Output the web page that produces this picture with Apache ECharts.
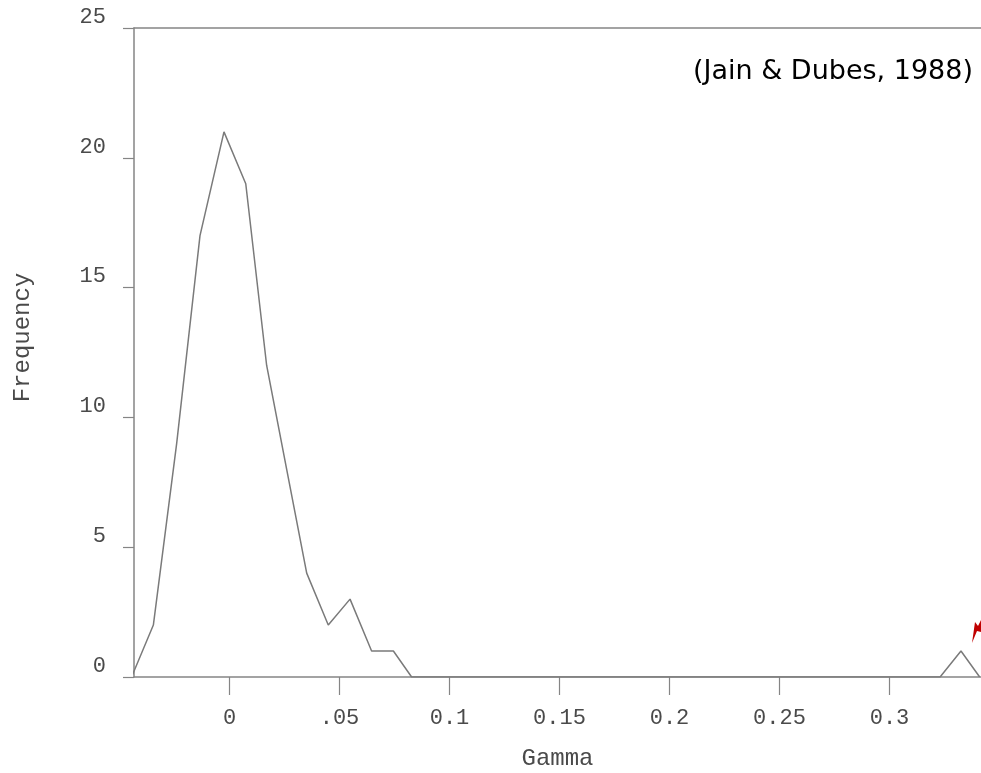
<!DOCTYPE html>
<html lang="en">
  <head>
    <meta charset="utf-8">
    <title>Gamma frequency</title>
    <script src="https://cdn.jsdelivr.net/npm/echarts@6.0.0/dist/echarts.min.js"></script>
    <style>
      html, body { margin: 0; padding: 0; background: #fff; }
      #chart { width: 981px; height: 773px; }
    </style>
  </head>
  <body>
    <div id="chart"></div>
    <script>
      // values
      var gamma = [-0.0445, -0.0346, -0.024, -0.0134, -0.0025, 0.0074, 0.0169, 0.026, 0.0351,
                   0.0449, 0.0548, 0.0646, 0.0745, 0.0828, 0.323, 0.3325, 0.341];
      var frequency = [0, 2, 9, 17, 21, 19, 12, 8, 4, 2, 3, 1, 1, 0, 0, 1, 0];

      var xTickValues = [0, 0.05, 0.1, 0.15, 0.2, 0.25, 0.3];
      var xTickLabels = ['0', '.05', '0.1', '0.15', '0.2', '0.25', '0.3'];
      var yTickLabels = ['0', '5', '10', '15', '20', '25'];

      var points = gamma.map(function (g, i) { return [g, frequency[i]]; });

      var lineGray = '#858585';
      var textGray = '#4a4a4a';
      var mono = 'Liberation Mono';

      var myChart = echarts.init(document.getElementById('chart'));

      myChart.setOption({
        animation: false,
        grid: { left: 134, top: 28, right: 0, bottom: 96, outerBoundsMode: 'none', containLabel: false },
        xAxis: [{
          type: 'value',
          min: -0.0434,
          max: 0.3416,
          name: 'Gamma',
          nameLocation: 'middle',
          nameGap: 70,
          nameTextStyle: { fontFamily: mono, fontSize: 24, color: textGray },
          axisLine: { onZero: false, lineStyle: { color: lineGray, width: 1.5 } },
          axisTick: { customValues: xTickValues, length: 18, lineStyle: { color: lineGray, width: 1.2 } },
          axisLabel: {
            customValues: xTickValues,
            margin: 30,
            fontFamily: mono,
            fontSize: 22,
            color: textGray,
            formatter: function (v) {
              var i = xTickValues.findIndex(function (t) { return Math.abs(t - v) < 1e-9; });
              return i < 0 ? '' : xTickLabels[i];
            }
          },
          splitLine: { show: false }
        }, {
          // top border of the frame
          type: 'value',
          position: 'top',
          min: -0.0434,
          max: 0.3416,
          axisLine: { show: true, onZero: false, lineStyle: { color: lineGray, width: 1.5 } },
          axisTick: { show: false },
          axisLabel: { show: false },
          splitLine: { show: false }
        }],
        yAxis: {
          type: 'value',
          min: 0,
          max: 25,
          interval: 5,
          name: 'Frequency',
          nameLocation: 'middle',
          nameGap: 99,
          nameTextStyle: { fontFamily: mono, fontSize: 24, color: textGray, padding: [0, 0, 0, 30] },
          axisLine: { show: true, onZero: false, lineStyle: { color: lineGray, width: 1.5 } },
          axisTick: { show: true, length: 11, lineStyle: { color: lineGray, width: 1.2 } },
          axisLabel: {
            margin: 28,
            fontFamily: mono,
            fontSize: 22,
            color: textGray,
            verticalAlign: 'bottom',
            formatter: function (v) { return yTickLabels[Math.round(v / 5)]; }
          },
          splitLine: { show: false }
        },
        series: [{
          type: 'line',
          data: points,
          symbol: 'none',
          lineStyle: { color: '#7a7a7a', width: 1.5 },
          z: 3
        }],
        graphic: [{
          type: 'text',
          right: 8,
          top: 58,
          style: {
            text: '(Jain & Dubes, 1988)',
            font: '27px "DejaVu Sans"',
            fill: '#000'
          }
        }, {
          // red arrow at the right edge of the scan
          type: 'polygon',
          shape: { points: [[972, 643], [975, 622], [978, 626], [981, 620], [981, 632], [977, 631]] },
          style: { fill: '#c00000' }
        }]
      });
    </script>
  </body>
</html>
